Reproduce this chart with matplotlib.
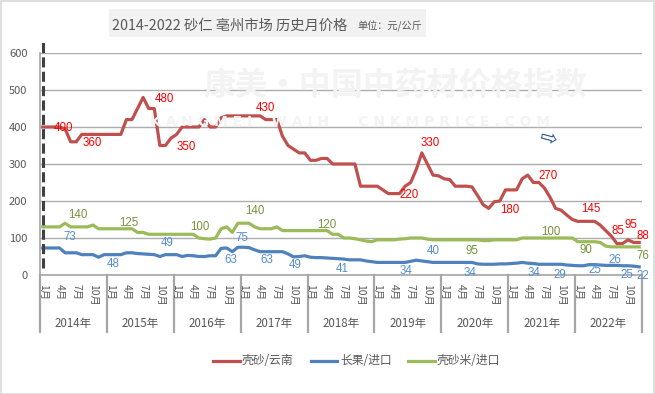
import matplotlib
matplotlib.use('Agg')
import matplotlib.pyplot as plt
from matplotlib.patches import Rectangle
from matplotlib.lines import Line2D
import matplotlib.transforms as mtransforms

plt.rcParams['font.family'] = ['Noto Sans CJK SC', 'DejaVu Sans']

# ---------------- data ----------------
years = [f'{y}年' for y in range(2014, 2023)]
month_ticks = ['1月', '4月', '7月', '10月']
series_names = ['壳砂/云南', '长果/进口', '壳砂米/进口']

red = [400, 400, 400, 400, 395, 360, 360, 380, 380, 380, 380, 380,
       380, 380, 380, 420, 420, 450, 480, 450, 450, 350, 350, 370,
       380, 400, 400, 400, 400, 420, 400, 400, 425, 430, 430, 430,
       430, 430, 430, 430, 420, 420, 420, 375, 350, 340, 330, 330,
       310, 310, 315, 315, 300, 300, 300, 300, 300, 240, 240, 240,
       240, 230, 220, 220, 220, 240, 250, 285, 330, 300, 270, 268,
       260, 258, 240, 240, 240, 238, 215, 190, 180, 198, 200, 230,
       230, 230, 260, 270, 250, 250, 235, 210, 180, 175, 162, 150,
       145, 145, 145, 145, 135, 120, 105, 85, 85, 95, 88, 88]

blue = [73, 73, 73, 73, 60, 60, 60, 55, 55, 55, 48, 55,
        55, 55, 55, 60, 60, 58, 57, 56, 55, 50, 55, 55,
        55, 50, 53, 52, 50, 50, 52, 52, 72, 73, 63, 75,
        75, 74, 68, 63, 63, 63, 63, 63, 57, 49, 50, 52,
        48, 47, 47, 46, 45, 44, 43, 41, 41, 41, 38, 36,
        34, 34, 34, 34, 34, 34, 37, 40, 38, 36, 34, 34,
        34, 34, 34, 34, 34, 34, 30, 29, 29, 29, 30, 30,
        31, 32, 34, 32, 31, 29, 29, 29, 29, 29, 27, 26,
        25, 25, 28, 28, 27, 26, 26, 26, 25, 25, 24, 22]

green = [130, 130, 130, 130, 140, 130, 130, 130, 130, 135, 125, 125,
         125, 125, 125, 125, 125, 115, 115, 110, 110, 110, 110, 110,
         110, 110, 110, 110, 100, 98, 97, 100, 125, 130, 115, 140,
         140, 140, 130, 125, 125, 125, 130, 120, 120, 120, 120, 120,
         120, 120, 120, 120, 110, 110, 100, 100, 98, 95, 92, 90,
         95, 95, 95, 95, 97, 98, 100, 100, 100, 97, 95, 95,
         95, 95, 95, 95, 95, 95, 95, 93, 93, 95, 95, 95,
         95, 95, 100, 100, 100, 100, 100, 100, 100, 100, 100, 100,
         90, 90, 90, 90, 88, 78, 76, 76, 76, 76, 76, 76]

red_labels = [400, 360, 480, 350, 430, 330, 220, 180, 270, 145, 85, 95, 88]
red_label_at = [(3.75, 396), (8.8, 356), (21.9, 476), (25.8, 347), (39.9, 452),
                (69.5, 358), (65.8, 217), (83.8, 176), (90.6, 268), (98.3, 178),
                (103.2, 119), (105.6, 135), (107.6, 106)]
green_labels = [140, 125, 100, 140, 120, 95, 100, 90, 76]
green_label_at = [(6.3, 162), (15.5, 140), (28.2, 130), (38.1, 173), (50.9, 135),
                  (77.0, 65), (91.2, 117), (97.5, 68), (107.7, 51)]
blue_labels = [73, 48, 49, 63, 75, 63, 49, 41, 34, 40, 34, 34, 29, 25, 26, 25, 22]
blue_label_at = [(4.9, 102), (12.7, 30), (22.4, 87), (33.7, 41), (35.7, 99),
                 (40.2, 41), (45.2, 27), (53.7, 15), (65.1, 11), (70.0, 65),
                 (76.6, 6), (88.1, 6), (92.8, 0), (99.1, 13), (102.7, 41),
                 (104.7, 0), (107.7, -3)]

# ---------------- figure ----------------
W, H = 655, 394
fig = plt.figure(figsize=(W / 100, H / 100), dpi=100)
fig.patch.set_facecolor('white')
fig.patches.append(Rectangle((0.5 / W, 0.5 / H), 1 - 1.5 / W, 1 - 1.5 / H,
                             transform=fig.transFigure, fill=False,
                             edgecolor='#D9D9D9', lw=1.2))

ax = fig.add_axes([40 / W, 1 - 275 / H, 602 / W, 222 / H])
ax.set_xlim(-0.5, len(red) - 0.5)
ax.set_ylim(0, 600)
ax.set_yticks(range(0, 601, 100))
ax.yaxis.grid(True, color='#ADADAD', lw=1)
ax.set_axisbelow(True)
for s in ['top', 'right']:
    ax.spines[s].set_visible(False)
ax.spines['left'].set_color('#A6A6A6')
ax.spines['bottom'].set_color('#A6A6A6')
ax.spines['left'].set_linewidth(1.2)
ax.spines['bottom'].set_linewidth(1.2)
ax.tick_params(axis='y', length=0, labelsize=8, labelcolor='#595959', pad=9)
ax.tick_params(axis='x', length=0, labelbottom=False)

# faint watermark
fig.text(395 / W, 1 - 86 / H, '康美·中国中药材价格指数', fontsize=23,
         fontweight='bold', color='#F3F3F3', ha='center', va='center', zorder=0)
fig.text(350 / W, 1 - 122 / H, 'K A N G M E I    W A I H      C N K M P R I C E . C O M',
         fontsize=10, fontweight='bold', color='#F3F3F3', ha='center',
         va='center', zorder=0, family=['DejaVu Sans'])

x = list(range(len(red)))
colors = ['#C0504D', '#4F81BD', '#9BBB59']
for vals, c in zip([red, blue, green], colors):
    ax.plot(x, vals, color=c, lw=2.3, solid_joinstyle='round', zorder=3)

# dashed marker line at the first month
ax.plot([0, 0], [19, 635], color='#404040', lw=2.2, ls=(0, (3.3, 1.4)),
        clip_on=False, zorder=4)

lab_font = ['Liberation Sans', 'DejaVu Sans']
for vals, pos, col in [(red_labels, red_label_at, '#FF0000'),
                       (green_labels, green_label_at, '#77933C'),
                       (blue_labels, blue_label_at, '#558ED5')]:
    for v, (lx, ly) in zip(vals, pos):
        ax.text(lx, ly, str(v), color=col, fontsize=8.3, ha='center',
                va='center', family=lab_font, zorder=5, clip_on=False)

# arrow glyph
ax.text(90.7, 368, '⇨', fontsize=15, color='#2F5597', ha='center', va='center',
        rotation=-15, family=['DejaVu Sans'])

# category axis: months and years
trans = mtransforms.blended_transform_factory(ax.transData, ax.transAxes)
n_years = len(years)
for k in range(n_years + 1):
    ax.plot([12 * k - 0.5] * 2, [0, -57 / 222], transform=trans, color='#A6A6A6',
            lw=1.6, clip_on=False)
for k, yl in enumerate(years):
    for j, m in enumerate(month_ticks):
        ax.text(12 * k + 3 * j, -9 / 222, m, transform=trans, rotation=270,
                ha='center', va='top', fontsize=7.5, color='#595959')
    ax.text(12 * k + 5.5, -48 / 222, yl, transform=trans, ha='center',
            va='center', fontsize=8.3, color='#595959')

# title box
fig.patches.append(Rectangle((109 / W, 1 - 37 / H), 317 / W, 28 / H,
                             transform=fig.transFigure, facecolor='#F2F2F2',
                             edgecolor='none'))
fig.text(112 / W, 1 - 30 / H, '2014-2022 砂仁 亳州市场 历史月价格', fontsize=10.3,
         color='#595959', ha='left', va='baseline')
fig.text(357 / W, 1 - 30 / H, '单位：元/公斤', fontsize=7.3,
         color='#595959', ha='left', va='baseline')

# legend
leg_y = 1 - 361 / H
for (x0, x1, tx), name, c in zip([(213, 240, 242), (311, 337, 340), (408, 435, 437)],
                                 series_names, colors):
    fig.add_artist(Line2D([x0 / W, x1 / W], [leg_y, leg_y], color=c, lw=2.3,
                          transform=fig.transFigure))
    fig.text(tx / W, leg_y, name, fontsize=8.5, color='#595959', ha='left',
             va='center')

fig.savefig('out.png', dpi=100)
